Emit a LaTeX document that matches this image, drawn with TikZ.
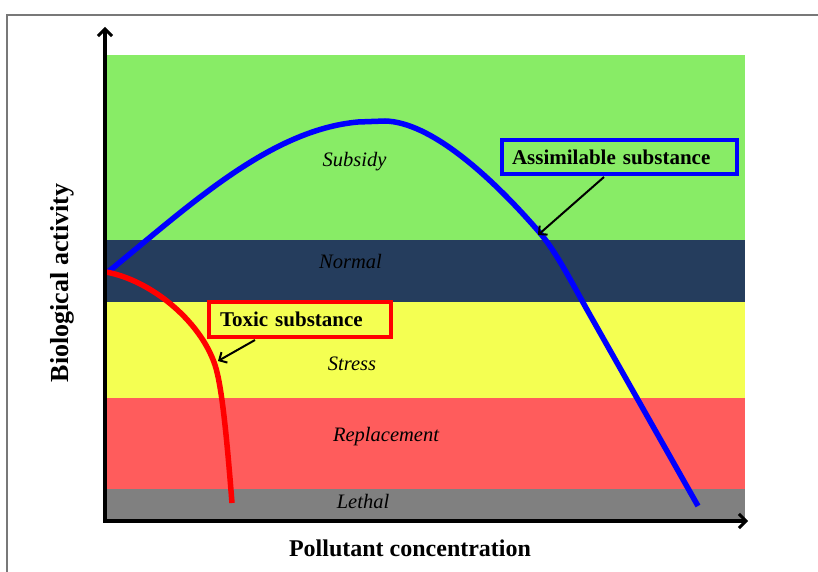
\documentclass[tikz,border=0pt]{standalone}
\usepackage{fontspec}
\setmainfont{Liberation Serif}
\usetikzlibrary{arrows.meta}
\definecolor{bgreen}{RGB}{136,236,102}
\definecolor{bnavy}{RGB}{37,61,93}
\definecolor{byellow}{RGB}{244,255,82}
\definecolor{bred}{RGB}{255,92,92}
\definecolor{bgray}{RGB}{128,128,128}
\definecolor{framegray}{RGB}{120,120,120}
\tikzset{
  axisline/.style={line width=3.5pt,-{Straight Barb[length=7pt,width=14pt,line width=3pt]}},
  bandlabel/.style={anchor=base,font=\fontsize{20.5}{24}\selectfont\itshape,inner sep=0pt},
  axislabel/.style={anchor=base,font=\fontsize{24}{28}\selectfont\bfseries,inner sep=0pt},
  keybox/.style={draw,line width=4pt,font=\fontsize{21}{24}\selectfont\bfseries,align=left,inner ysep=0pt},
  pointer/.style={line width=2pt,-{Straight Barb[length=6pt,width=12pt,line width=2pt]}},
  curve/.style={line width=5.5pt}
}
\begin{document}
\begin{tikzpicture}[x=1pt,y=-1pt]
\useasboundingbox (0,0) rectangle (818,572);
% frame
\draw[framegray,line width=1.5pt] (7,572) -- (7,15) -- (818,15);
% bands
\fill[bgreen]  (105,55)  rectangle (745,240);
\fill[bnavy]   (105,240) rectangle (745,302);
\fill[byellow] (105,302) rectangle (745,398);
\fill[bred]    (105,398) rectangle (745,489);
\fill[bgray]   (105,489) rectangle (745,521);
% band labels
\node[bandlabel] (subsidy) at (354.5,167) {Subsidy};
\node[bandlabel] (normal) at (350.5,268) {Normal};
\node[bandlabel] (stress) at (352,370) {Stress};
\node[bandlabel] (replacement) at (386,441) {Replacement};
\node[bandlabel] (lethal) at (363,508) {Lethal};
% curves
\draw[curve,blue] (108,272) .. controls (190,205) and (270,130) .. (358,122)
  -- (385,121) .. controls (430,122) and (490,175) .. (540,233)
  .. controls (557,253) and (573,285) .. (590,315) -- (698,506);
\draw[curve,red] (106,272) .. controls (150,280) and (200,320) .. (215,365)
  .. controls (222,386) and (227,440) .. (232,503);
% axes
\coordinate (O) at (105,521);
\coordinate (ytop) at (105,27);
\coordinate (xend) at (748,521);
\draw[axisline] ([yshift=-1.75pt]O) -- (ytop);
\draw[axisline] ([xshift=-1.75pt]O) -- (xend);
% axis labels
\node[axislabel] (xlabel) at (410,556) {Pollutant concentration};
\node[axislabel,rotate=90,font=\fontsize{26}{30}\selectfont\bfseries] (ylabel) at (68,283) {Biological activity};
% key boxes
\node[keybox,red,text=black,text width=160pt,inner xsep=11pt,minimum height=35pt] (toxic) at (300,319.5) {Toxic substance};
\node[keybox,blue,text=black,text width=215pt,inner xsep=10pt,minimum height=34pt] (assim) at (619.5,157) {Assimilable substance};
% pointers
\coordinate (tpt) at (218,361);
\coordinate (apt) at (538,235);
\draw[pointer] ([xshift=-45pt,yshift=-1pt]toxic.south) -- (tpt);
\draw[pointer] ([xshift=-15.5pt,yshift=-1pt]assim.south) -- (apt);
\end{tikzpicture}
\end{document}
